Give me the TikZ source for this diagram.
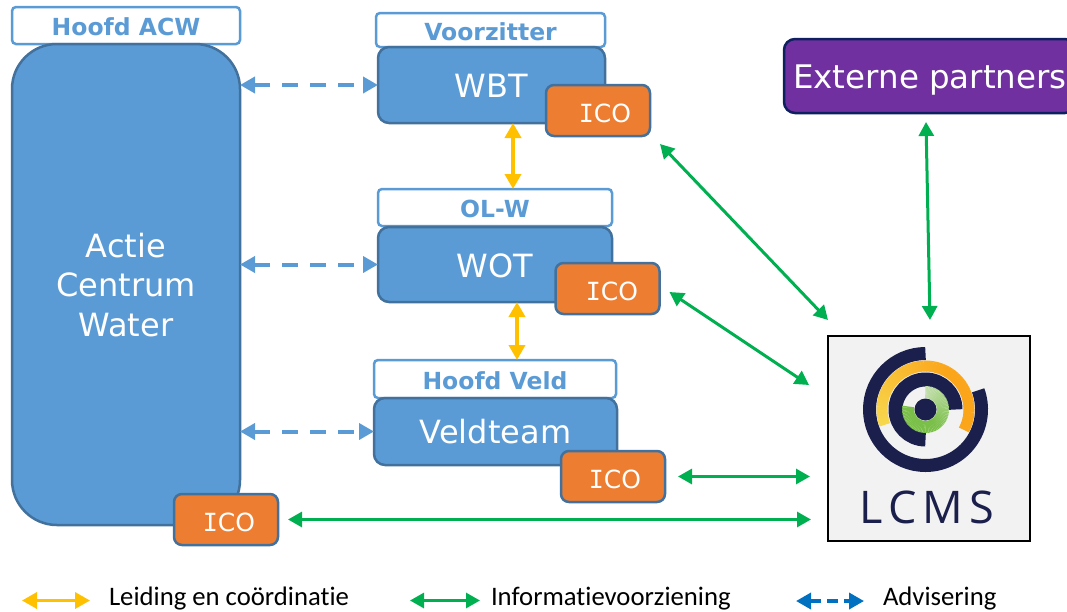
\documentclass[tikz,border=0pt]{standalone}
\usepackage{fontspec}
\setmainfont{DejaVu Sans}
\newfontfamily\legendfont[Ligatures=NoCommon]{Carlito}
\newfontfamily\logofont[LetterSpace=14]{Open Sans}
\newfontfamily\serifI{DejaVu Sans Mono}
\usetikzlibrary{arrows.meta}
\definecolor{boxblue}{HTML}{5B9BD5}
\definecolor{edgeblue}{HTML}{41719C}
\definecolor{icoorange}{HTML}{ED7D31}
\definecolor{partnerpurple}{HTML}{7030A0}
\definecolor{partneredge}{HTML}{0F2060}
\definecolor{infogreen}{HTML}{00B050}
\definecolor{leadyellow}{HTML}{FFC000}
\definecolor{advicelegend}{HTML}{0070C0}
\definecolor{lcmsgrey}{HTML}{F2F2F2}
\definecolor{lcmsnavy}{HTML}{1B1F4B}
\definecolor{ringyellow}{HTML}{F7D94F}
\definecolor{ringorange}{HTML}{FBA51A}
\definecolor{eyelight}{HTML}{C3DFAD}
\definecolor{eyedark}{HTML}{7ABF48}
\newcommand{\ico}{\raisebox{-3pt}[18pt][0pt]{\fontsize{25}{25}\selectfont{\serifI I}CO}}
\tikzset{
  bluebox/.style={draw=edgeblue,line width=2.5pt,fill=boxblue,text=white,rounded corners=11pt,
    inner sep=0pt,outer sep=0pt,text depth=-3pt,font=\fontsize{32}{39.5}\selectfont,align=center},
  lowtext/.style={text height=25.5pt,text depth=0pt},
  titlebox/.style={draw=boxblue,line width=2.5pt,fill=white,text=boxblue,rounded corners=4pt,
    inner sep=0pt,outer sep=0pt,text height=20pt,text depth=0pt,font=\fontsize{23.5}{28}\selectfont\bfseries},
  icobox/.style={draw=edgeblue,line width=2.5pt,fill=icoorange,text=white,rounded corners=8pt,
    inner sep=0pt,outer sep=0pt,minimum width=104pt,minimum height=51pt},
  legendtext/.style={anchor=west,inner sep=0pt,outer sep=0pt,font=\legendfont\fontsize{26.7}{28}\selectfont},
  info/.style={draw=infogreen,line width=3pt,{Triangle[length=14pt,width=15pt]}-{Triangle[length=14pt,width=15pt]}},
  lead/.style={draw=leadyellow,line width=4pt,{Triangle[length=15pt,width=16pt]}-{Triangle[length=15pt,width=16pt]}},
  advice/.style={draw=boxblue,line width=4pt,dash pattern=on 16pt off 12pt,{Triangle[length=15pt,width=16pt]}-{Triangle[length=15pt,width=16pt]}},
  ring/.style={line width=#1,line cap=butt}
}
\begin{document}
\begin{tikzpicture}[x=1pt,y=-1pt]
  \useasboundingbox (0,0) rectangle (1067,611);

  % action centre
  \node[titlebox,minimum width=228pt,minimum height=37pt] (hoofdacw) at (126,25.5) {Hoofd ACW};
  \node[bluebox,rounded corners=45pt,minimum width=228pt,minimum height=481pt] (acw) at (126,284.5) {Actie\\Centrum\\Water};
  \node[icobox] (icoacw) at (226,519.5) {\hspace{6pt}\ico};

  % teams
  \node[titlebox,minimum width=229pt,minimum height=34pt] (voorzitter) at (490.5,30) {Voorzitter};
  \node[bluebox,lowtext,minimum width=227pt,minimum height=76pt] (wbt) at (491.5,85) {WBT};
  \node[icobox] (icowbt) at (598,110.5) {\hspace{14pt}\ico};

  \node[titlebox,minimum width=234pt,minimum height=37pt] (olw) at (495,207.5) {OL-W};
  \node[bluebox,lowtext,minimum width=234pt,minimum height=75pt] (wot) at (495,264.5) {WOT};
  \node[icobox] (icowot) at (607.5,288.5) {\hspace{9pt}\ico};

  \node[titlebox,minimum width=242pt,minimum height=38pt] (hoofdveld) at (495,379) {Hoofd Veld};
  \node[bluebox,minimum width=243pt,minimum height=67pt,text depth=-1pt] (veld) at (495.5,431.5) {Veldteam};
  \node[icobox] (icoveld) at (613,476.5) {\hspace{4pt}\ico};

  % partners and system
  \node[bluebox,lowtext,draw=partneredge,fill=partnerpurple,minimum width=292pt,minimum height=74pt,font=\fontsize{32.5}{39}\selectfont] (partners) at (930,76) {Externe partners};
  \node[draw=black,line width=1.5pt,fill=lcmsgrey,minimum width=202pt,minimum height=205pt,inner sep=0pt,outer sep=0pt] (lcms) at (929,438.5) {};

  % logo
  \coordinate (eye) at (925.5,409.5);
  \draw[lcmsnavy,ring=13pt] ([shift=(90:56pt)]eye) arc[start angle=90,end angle=380,radius=56pt];
  \foreach \a in {-28,-24,...,198} {
    \pgfmathsetmacro{\mix}{max(0,(\a-60)/1.4)}
    \draw[ringyellow!\mix!ringorange,ring=11pt] ([shift=(\a:43.5pt)]eye) arc[start angle=\a,end angle=\a+4.6,radius=43.5pt];
  }
  \draw[lcmsnavy,ring=14pt] ([shift=(0:30pt)]eye) arc[start angle=0,end angle=270,radius=30pt];
  \foreach \a in {-190,-186,...,86} {
    \pgfmathsetmacro{\mix}{max(0,(\a+60)*0.68)}
    \draw[eyelight!\mix!eyedark,ring=12pt] ([shift=(\a:17.5pt)]eye) arc[start angle=\a,end angle=\a+4.6,radius=17.5pt];
  }
  \fill[lcmsnavy] (eye) circle (11pt);
  \node[text=lcmsnavy,inner sep=0pt,text depth=0pt,font=\logofont\fontsize{45}{45}\selectfont] (lcmstext) at (927,507) {LCMS};

  % advice
  \draw[advice] (acw.east |- wbt.west) -- (wbt.west);
  \draw[advice] (acw.east |- wot.west) -- (wot.west);
  \draw[advice] (acw.east |- veld.west) -- (veld.west);

  % coordination
  \draw[lead] ([xshift=21.5pt]wbt.south) -- ([xshift=18pt]olw.north);
  \draw[lead] ([xshift=22pt]wot.south) -- ([xshift=22pt]hoofdveld.north);

  % information
  \draw[info] ([shift={(10,8)}]icowbt.south east) -- ([shift={(0,-16)}]lcms.north west);
  \draw[info] ([shift={(10,-22)}]icowot.south east) -- ([shift={(-19,49)}]lcms.north west);
  \draw[info] ([xshift=13pt]icoveld.east) -- ([xshift=-18pt]lcms.west |- icoveld.east);
  \draw[info] ([xshift=10pt]icoacw.east) -- ([xshift=-17pt]lcms.west |- icoacw.east);
  \draw[info] ([shift={(-4,9)}]partners.south) -- ([shift={(1,-16)}]lcms.north);

  % legend
  \node[legendtext] (legendlead) at (109,598.5) {Leiding en coördinatie};
  \node[legendtext] (legendinfo) at (491,598.5) {Informatievoorziening};
  \node[legendtext] (legendadvice) at (883,598.5) {Advisering};
  \draw[lead,line width=3.5pt] ([shift={(-87,2)}]legendlead.west) -- ([shift={(-19,2)}]legendlead.west);
  \draw[info] ([shift={(-81,2)}]legendinfo.west) -- ([shift={(-11,2)}]legendinfo.west);
  \draw[advice,draw=advicelegend,line width=3.5pt,dash pattern=on 11pt off 6pt] ([shift={(-87,2.5)}]legendadvice.west) -- ([shift={(-19,2.5)}]legendadvice.west);
\end{tikzpicture}
\end{document}
